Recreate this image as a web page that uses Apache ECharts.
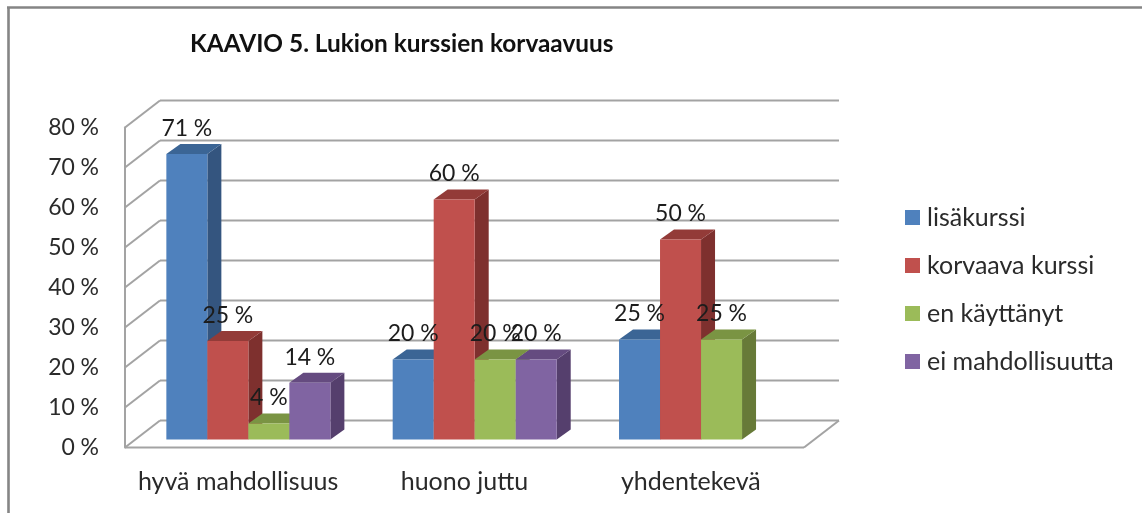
<!DOCTYPE html>
<html><head><meta charset="utf-8">
<style>html,body{margin:0;padding:0;background:#fff}#c{width:1142px;height:513px;filter:blur(0.45px)}</style>
<script src="https://cdn.jsdelivr.net/npm/echarts@6/dist/echarts.min.js"></script>
</head><body><div id="c"></div>
<script>
const titleText = 'KAAVIO 5. Lukion kurssien korvaavuus';
const categories = ['hyvä mahdollisuus', 'huono juttu', 'yhdentekevä'];
const seriesNames = ['lisäkurssi', 'korvaava kurssi', 'en käyttänyt', 'ei mahdollisuutta'];
const lisakurssi = [71.4, 20, 25];
const korvaava = [24.6, 60, 50];
const enKayttanyt = [4, 20, 25];
const eiMahdollisuutta = [14.2, 20, null];
const valueTicks = [0, 10, 20, 30, 40, 50, 60, 70, 80];

const FONT = 'Lato';
const faces = [
  { front: '#4F81BD', side: '#34557F', top: '#3B6595' },
  { front: '#C0504D', side: '#7E302E', top: '#933B38' },
  { front: '#9BBB59', side: '#677A38', top: '#7A9443' },
  { front: '#8064A2', side: '#553F6D', top: '#654B80' }
];
const values = [lisakurssi, korvaava, enKayttanyt, eiMahdollisuutta];
const WALL = { dx: 35, dy: -27 };
const FRONT = { dx: 10.2, dy: -8 };
const DEPTH = { dx: 14, dy: -10 };
const GROUP = 0.7247;
const LINE = '#a3a3a3';

function barSeries(name, idx) {
  return {
    name, type: 'custom', coordinateSystem: 'cartesian2d', z: 3,
    itemStyle: { color: faces[idx].front },
    encode: { x: 0, y: 1 },
    data: values[idx].map((v, i) => [i, v]),
    renderItem(params, api) {
      const v = api.value(1);
      if (v === null || isNaN(v)) return null;
      const cat = api.value(0);
      const bw = api.size([1, 0])[0] * GROUP / 4;
      const base = api.coord([cat, 0]);
      const top = api.coord([cat, v]);
      const x0 = base[0] + FRONT.dx + (idx - 2) * bw, x1 = x0 + bw;
      const yb = base[1] + FRONT.dy, yt = top[1] + FRONT.dy;
      const f = faces[idx], d = DEPTH;
      const poly = (points, fill) => ({ type: 'polygon', shape: { points }, style: { fill }, z2: idx * 3 + 1 });
      return { type: 'group', children: [
        poly([[x1, yb], [x1 + d.dx, yb + d.dy], [x1 + d.dx, yt + d.dy], [x1, yt]], f.side),
        poly([[x0, yt], [x0 + d.dx, yt + d.dy], [x1 + d.dx, yt + d.dy], [x1, yt]], f.top),
        poly([[x0, yb], [x1, yb], [x1, yt], [x0, yt]], f.front),
        { type: 'text', z2: 100, x: (x0 + x1) / 2, y: yt - 25.5,
          style: { text: Math.round(v) + '\u202f%', fill: '#1c1c1c', font: '23px ' + FONT, textAlign: 'center', textVerticalAlign: 'middle' } }
      ] };
    }
  };
}

const wallSeries = {
  type: 'custom', coordinateSystem: 'cartesian2d', silent: true, z: 1,
  data: valueTicks.map(t => [0, t]),
  encode: { y: 1 },
  renderItem(params, api) {
    const t = api.value(1);
    const a = api.coord([0, t]);
    const left = a[0] - api.size([1, 0])[0] / 2;
    const w = api.size([1, 0])[0] * categories.length;
    const line = (x1, y1, x2, y2) => ({ type: 'line', shape: { x1, y1, x2, y2 }, style: { stroke: LINE, lineWidth: 2 } });
    const kids = [
      line(left, a[1], left + WALL.dx, a[1] + WALL.dy),
      line(left + WALL.dx, a[1] + WALL.dy, left + w + WALL.dx, a[1] + WALL.dy)
    ];
    if (t === 0) {
      kids.push(line(left, a[1], left + w, a[1]));
      kids.push(line(left + w, a[1], left + w + WALL.dx, a[1] + WALL.dy));
    }
    return { type: 'group', children: kids };
  }
};

const chart = echarts.init(document.getElementById('c'));
chart.setOption({
  animation: false,
  backgroundColor: '#fff',
  textStyle: { fontFamily: FONT },
  title: { text: titleText, left: 190, top: 32, padding: 0,
    textStyle: { fontFamily: FONT, fontSize: 24.4, fontWeight: 'bold', color: '#111' } },
  grid: { left: 125, top: 127.5, width: 679, height: 320 },
  legend: { left: 905, top: 205, padding: 0, orient: 'vertical', icon: 'rect', itemWidth: 15, itemHeight: 15, itemGap: 23,
    data: seriesNames, selectedMode: false,
    textStyle: { fontFamily: FONT, fontSize: 25, color: '#2a2a2a', padding: [0, 0, 0, 2] } },
  xAxis: { type: 'category', data: categories, boundaryGap: true,
    axisLine: { show: false }, axisTick: { show: false }, splitLine: { show: false },
    axisLabel: { interval: 0, fontFamily: FONT, fontSize: 25, color: '#2a2a2a', margin: 22 } },
  yAxis: { type: 'value', min: 0, max: 80, interval: 10,
    axisLine: { show: true, lineStyle: { color: LINE, width: 2 } }, axisTick: { show: false }, splitLine: { show: false },
    axisLabel: { fontFamily: FONT, fontSize: 23, color: '#2a2a2a', margin: 26, padding: [6, 0, 0, 0], formatter: v => v + '\u202f%' } },
  graphic: [
    { type: 'line', shape: { x1: 7, y1: 7.5, x2: 1142, y2: 7.5 }, style: { stroke: '#858585', lineWidth: 2.6 } },
    { type: 'line', shape: { x1: 8.5, y1: 7, x2: 8.5, y2: 513 }, style: { stroke: '#858585', lineWidth: 2.6 } }
  ],
  series: [wallSeries].concat(seriesNames.map(barSeries))
});
</script></body></html>
